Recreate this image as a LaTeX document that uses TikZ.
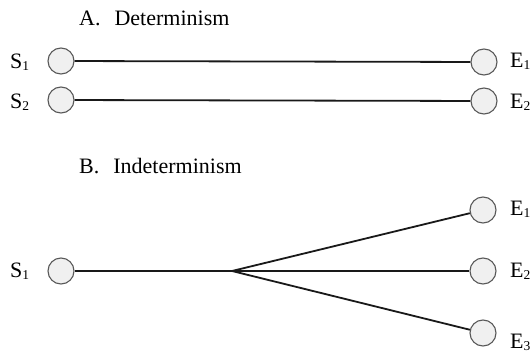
\documentclass[tikz,border=0pt]{standalone}
\usepackage{fontspec}
\setmainfont{Liberation Serif}
\newcommand{\sub}[1]{\raisebox{-2.5pt}{\fontsize{13.5}{16}\selectfont #1}}
\begin{document}
\begin{tikzpicture}[x=1pt,y=-1pt,
  state/.style={circle,minimum size=26pt,inner sep=0pt,draw=black!65,line width=1.1pt,fill=black!6},
  link/.style={draw=black!90,line width=1.8pt},
  lbl/.style={anchor=base west,inner sep=0pt,font=\fontsize{22}{26}\selectfont},
]
\useasboundingbox (0,0) rectangle (531,356);
% Titles
\node[lbl] (ta) at (79,25) {A.\hspace{14pt}Determinism};
\node[lbl] (tb) at (79,173) {B.\hspace{14pt}Indeterminism};
% A
\node[state] (as1) at (61,61) {};
\node[state] (as2) at (61,100) {};
\node[state] (ae1) at (484,62) {};
\node[state] (ae2) at (484,101) {};
\draw[link] (as1) -- (ae1);
\draw[link] (as2) -- (ae2);
\node[lbl] (las1) at (10,68) {S\sub{1}};
\node[lbl] (las2) at (10,108) {S\sub{2}};
\node[lbl] (lae1) at (510,67) {E\sub{1}};
\node[lbl] (lae2) at (510,108) {E\sub{2}};
% B
\node[state] (bs1) at (61,271) {};
\node[state] (be1) at (483,210) {};
\node[state] (be2) at (483,271) {};
\node[state] (be3) at (483,333) {};
\coordinate (br) at (232,271);
\draw[link] (bs1) -- (br);
\draw[link] (br) -- (be1);
\draw[link] (br) -- (be2);
\draw[link] (br) -- (be3);
\node[lbl] (lbs1) at (10,277) {S\sub{1}};
\node[lbl] (lbe1) at (510,215) {E\sub{1}};
\node[lbl] (lbe2) at (510,277) {E\sub{2}};
\node[lbl] (lbe3) at (510,348) {E\sub{3}};
\end{tikzpicture}
\end{document}
